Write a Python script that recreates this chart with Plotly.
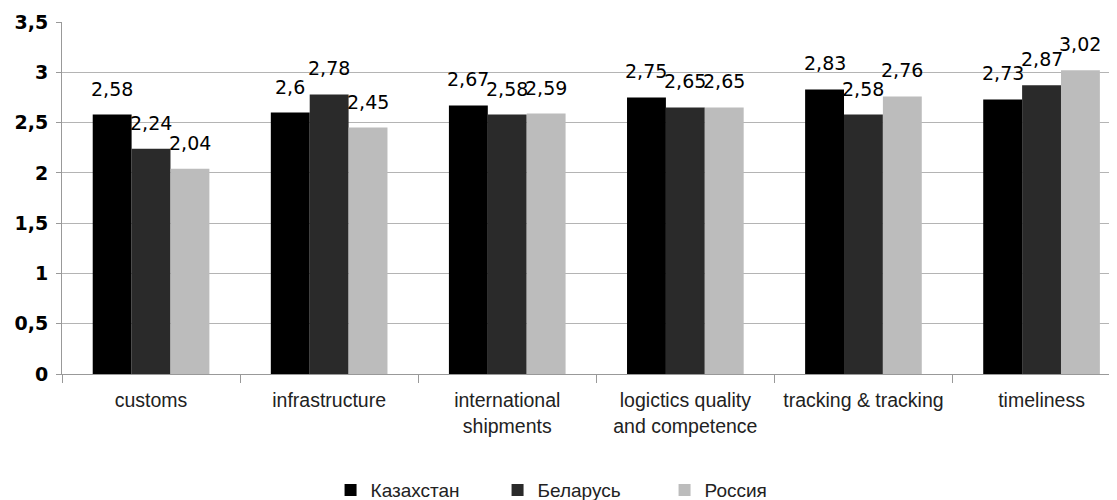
import plotly.graph_objects as go

categories = ["customs", "infrastructure", "international<br>shipments",
              "logictics quality<br>and competence", "tracking & tracking", "timeliness"]
series_names = ["Казахстан", "Беларусь", "Россия"]
kazakhstan = [2.58, 2.60, 2.67, 2.75, 2.83, 2.73]
belarus = [2.24, 2.78, 2.58, 2.65, 2.58, 2.87]
russia = [2.04, 2.45, 2.59, 2.65, 2.76, 3.02]
y_ticks = [0, 0.5, 1, 1.5, 2, 2.5, 3, 3.5]

series_values = [kazakhstan, belarus, russia]
colors = ["#000000", "#2a2a2a", "#bcbcbc"]

def fmt(v):
    s = ("%.2f" % v).rstrip("0").rstrip(".")
    return s.replace(".", ",")

# page body has an 8px margin, so the figure is sized to fit the window
W, H = 1109, 492
margin = dict(l=54, r=0, t=14, b=126, autoexpand=False)
bargap = 0.345
plot_w = W - margin["l"] - margin["r"]
cat_px = 178.1  # pixel width of one category slot (plot area runs past the window edge)
x_range = [-0.5, -0.5 + plot_w / cat_px]
bar_px = cat_px * (1 - bargap) / 3

fig = go.Figure()
for name, vals, col in zip(series_names, series_values, colors):
    fig.add_trace(go.Bar(name=name, x=categories, y=vals, marker_color=col,
                         marker_line_width=0))

annotations = []
for i, vals in enumerate(series_values):
    for c, v in zip(categories, vals):
        annotations.append(dict(x=c, y=v, xref="x", yref="y", text=fmt(v),
                                showarrow=False, xanchor="center", yanchor="bottom",
                                xshift=(i - 1) * bar_px, yshift=13,
                                font=dict(family="DejaVu Sans", size=19, color="#000")))

fig.update_layout(
    width=W, height=H, margin=margin,
    paper_bgcolor="white", plot_bgcolor="white",
    barmode="group", bargap=bargap, bargroupgap=0,
    annotations=annotations,
    showlegend=True,
    legend=dict(orientation="h", x=0.492, xanchor="center", y=-0.33, yanchor="middle",
                font=dict(family="Liberation Sans", size=19, color="#222"),
                entrywidth=122, entrywidthmode="pixels", itemsizing="constant"),
)
fig.update_yaxes(range=[0, 3.5], tickvals=y_ticks,
                 ticktext=[fmt(t) for t in y_ticks],
                 showgrid=True, gridcolor="#b4b4b4", gridwidth=1,
                 showline=True, linecolor="#999", linewidth=1,
                 ticks="outside", ticklen=5, tickcolor="#999",
                 ticklabelstandoff=4, automargin=False,
                 tickfont=dict(family="DejaVu Sans", size=19, color="#000", weight="bold"),
                 zeroline=False)
fig.update_xaxes(range=x_range, showline=True, linecolor="#999", linewidth=1,
                 ticks="outside", ticklen=8, tickcolor="#999", tickson="boundaries",
                 ticklabelstandoff=9, automargin=False,
                 tickfont=dict(family="Liberation Sans", size=19.5, color="#222"),
                 showgrid=False)

fig.write_html("out.html")
